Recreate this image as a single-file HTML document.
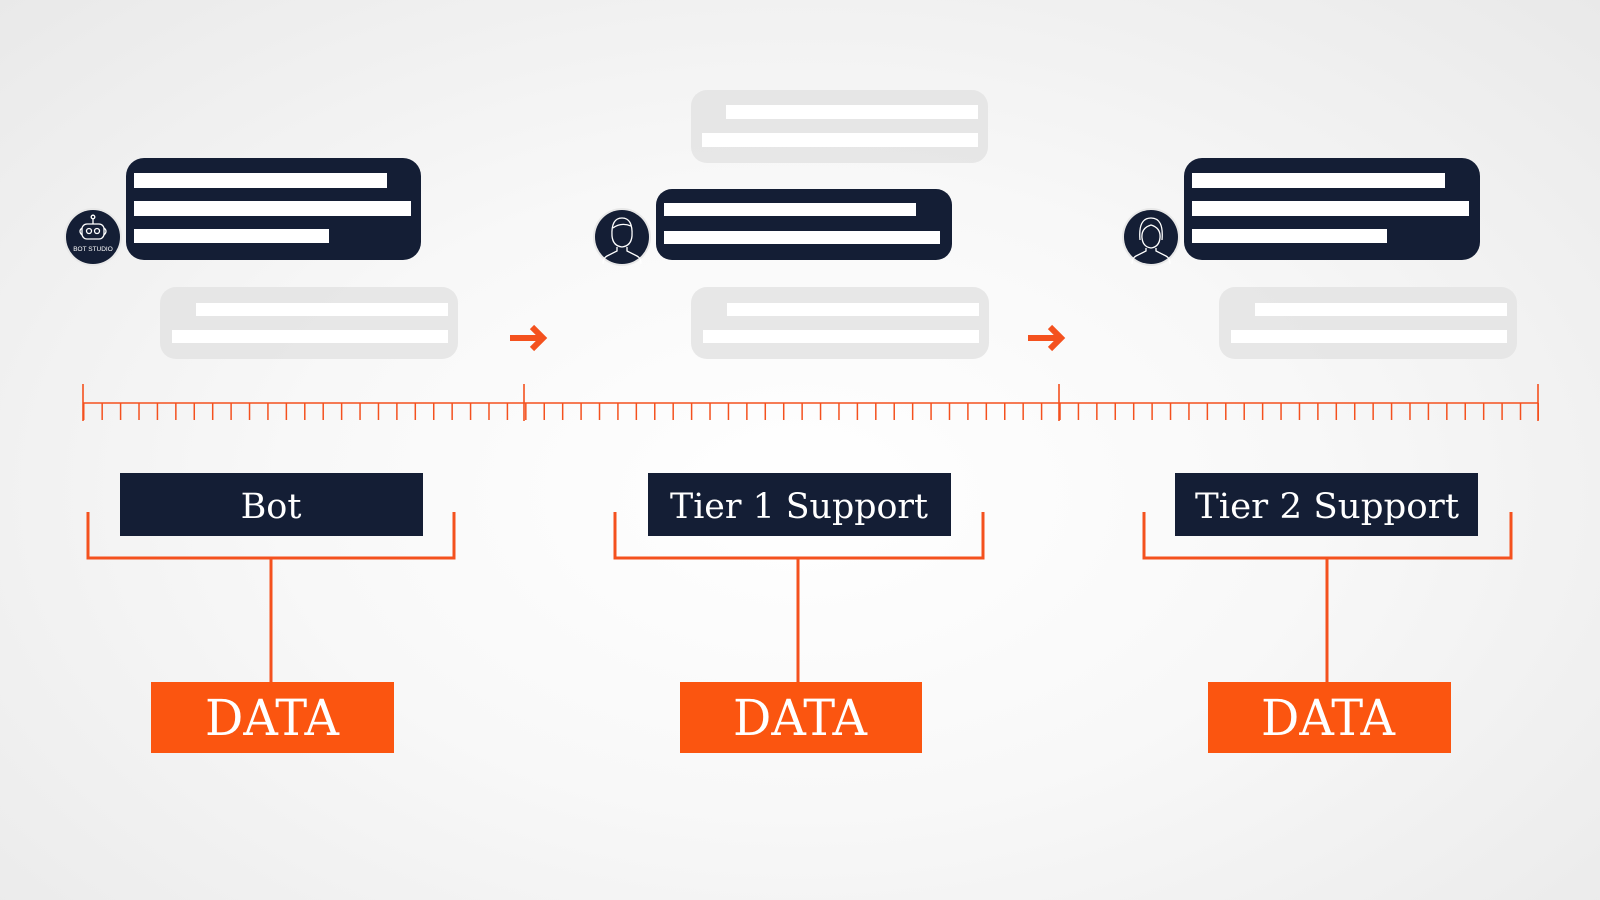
<!DOCTYPE html>
<html><head><meta charset="utf-8"><style>
html,body{margin:0;padding:0;width:1600px;height:900px;overflow:hidden}
body{background:radial-gradient(ellipse at 50% 55%,#ffffff 0%,#f8f8f8 45%,#e9e9e9 100%)}
svg{position:absolute;left:0;top:0}
</style></head><body>
<svg width="1600" height="900" viewBox="0 0 1600 900" xmlns="http://www.w3.org/2000/svg">
<defs>
<pattern id="tk" patternUnits="userSpaceOnUse" x="83" y="0" width="18.42" height="900">
<rect x="0" y="403" width="1.5" height="17" fill="#f4511e"/>
</pattern>
<g id="grp">
  <rect x="160" y="287" width="298" height="72" rx="16" fill="#e4e4e4" opacity="0.9"/>
  <rect x="196" y="303" width="252" height="13" fill="#fff"/>
  <rect x="172" y="330" width="276" height="13" fill="#fff"/>
</g>
</defs>
<!-- group 1 -->
<rect x="126" y="158" width="295" height="102" rx="18" fill="#141e35"/>
<rect x="134" y="173" width="253" height="15" fill="#fff"/>
<rect x="134" y="201" width="277" height="15" fill="#fff"/>
<rect x="134" y="229" width="195" height="14" fill="#fff"/>
<circle cx="93" cy="237" r="29" fill="#e8e8e8"/>
<circle cx="93" cy="237" r="27" fill="#141e35"/>
<g stroke="#fff" stroke-width="1.3" fill="none">
<rect x="82" y="224" width="22" height="15" rx="5"/><circle cx="89" cy="231" r="2.5"/><circle cx="97" cy="231" r="2.5"/>
<line x1="93" y1="224" x2="93" y2="219"/><circle cx="93" cy="217" r="1.8"/>
<path d="M82 228 q-4 3 0 7 M104 228 q4 3 0 7"/></g>
<text x="93" y="251" font-family="Liberation Sans,sans-serif" font-size="6.5" fill="#fff" text-anchor="middle">BOT STUDIO</text>
<use href="#grp"/>

<!-- group 2 -->
<rect x="691" y="90" width="297" height="73" rx="16" fill="#e4e4e4" opacity="0.9"/>
<rect x="726" y="105" width="252" height="14" fill="#fff"/>
<rect x="702" y="133" width="276" height="14" fill="#fff"/>
<rect x="656" y="189" width="296" height="71" rx="16" fill="#141e35"/>
<rect x="664" y="203" width="252" height="13" fill="#fff"/>
<rect x="664" y="231" width="276" height="13" fill="#fff"/>
<circle cx="622" cy="237" r="29" fill="#e8e8e8"/>
<circle cx="622" cy="237" r="27" fill="#141e35"/>
<g stroke="#fff" stroke-width="1.3" fill="none">
<path d="M612 236 q-1 -18 10 -18 q11 0 10 18 q-1 10 -10 11 q-9 -1 -10 -11z"/>
<path d="M613 228 q8 -6 18 -2"/>
<path d="M617 247 v4 l-10 5 q-4 2 -4 8 M627 247 v4 l10 5 q4 2 4 8"/></g>
<use href="#grp" transform="translate(531,0)"/>

<!-- group 3 -->
<rect x="1184" y="158" width="296" height="102" rx="18" fill="#141e35"/>
<rect x="1192" y="173" width="253" height="15" fill="#fff"/>
<rect x="1192" y="201" width="277" height="15" fill="#fff"/>
<rect x="1192" y="229" width="195" height="14" fill="#fff"/>
<circle cx="1151" cy="237" r="29" fill="#e8e8e8"/>
<circle cx="1151" cy="237" r="27" fill="#141e35"/>
<g stroke="#fff" stroke-width="1.3" fill="none">
<path d="M1140 240 q-2 -22 11 -22 q13 0 11 22 M1142 238 q-1 -10 9 -13 q10 3 9 13 q-1 9 -9 10 q-8 -1 -9 -10z"/>
<path d="M1146 248 v3 l-10 5 q-4 2 -4 8 M1156 248 v3 l10 5 q4 2 4 8"/></g>
<use href="#grp" transform="translate(1059,0)"/>

<!-- arrows -->
<g fill="none" stroke="#f4511e" stroke-width="6" stroke-linejoin="miter">
<path d="M510 338 H543 M532 327 L543 338 L532 349"/>
<path d="M1028 338 H1061 M1050 327 L1061 338 L1050 349"/>
</g>

<!-- ruler -->
<rect x="83" y="400" width="1456" height="22" fill="url(#tk)"/>
<g stroke="#f4511e" stroke-width="1.6">
<line x1="83" y1="403" x2="1538" y2="403"/>
<line x1="83" y1="384" x2="83" y2="421"/>
<line x1="524" y1="384" x2="524" y2="421"/>
<line x1="1059" y1="384" x2="1059" y2="421"/>
<line x1="1538" y1="384" x2="1538" y2="421"/>
</g>

<!-- labels -->
<g stroke="#f4511e" stroke-width="3" fill="none">
<path d="M88 512 V558 H454 V512 M271 558 V682"/>
<path d="M615 512 V558 H983 V512 M798 558 V682"/>
<path d="M1144 512 V558 H1511 V512 M1327 558 V682"/>
</g>
<g fill="#141e35">
<rect x="120" y="473" width="303" height="63"/>
<rect x="648" y="473" width="303" height="63"/>
<rect x="1175" y="473" width="303" height="63"/>
</g>
<g font-family="DejaVu Serif,Liberation Serif,serif" fill="#fff" text-anchor="middle">
<text x="271" y="518" font-size="35">Bot</text>
<text x="799" y="518" font-size="35" textLength="258" lengthAdjust="spacingAndGlyphs">Tier 1 Support</text>
<text x="1327" y="518" font-size="35" textLength="264" lengthAdjust="spacingAndGlyphs">Tier 2 Support</text>
</g>
<g fill="#fb5510">
<rect x="151" y="682" width="243" height="71"/>
<rect x="680" y="682" width="242" height="71"/>
<rect x="1208" y="682" width="243" height="71"/>
</g>
<g font-family="DejaVu Serif,Liberation Serif,serif" fill="#fff" text-anchor="middle" font-size="50">
<text x="272" y="735" textLength="134" lengthAdjust="spacingAndGlyphs">DATA</text>
<text x="800" y="735" textLength="134" lengthAdjust="spacingAndGlyphs">DATA</text>
<text x="1328" y="735" textLength="134" lengthAdjust="spacingAndGlyphs">DATA</text>
</g>
</svg>
</body></html>
